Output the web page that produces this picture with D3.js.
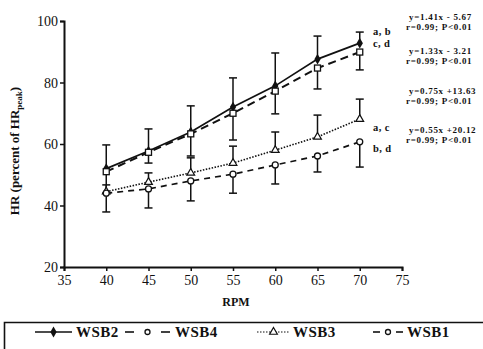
<!DOCTYPE html>
<html>
<head>
<meta charset="utf-8">
<script src="https://cdn.jsdelivr.net/npm/d3@7"></script>
<style>
  body { margin: 0; background: #fff; }
  svg { display: block; font-family: "Liberation Serif", "DejaVu Serif", serif; }
</style>
</head>
<body>
<script>
// data
const rpm = [40, 45, 50, 55, 60, 65, 70];
const wsb2 = [52, 57.7, 63.9, 72, 78.9, 87.6, 92.8];
const wsb4 = [51, 57.3, 63.3, 70, 77.2, 84.7, 89.9];
const wsb3 = [44.5, 47.6, 50.6, 53.8, 58, 62.3, 68.1];
const wsb1 = [44, 45.4, 48, 50.2, 53.2, 56.1, 60.7];
// error bars (one sided: up for WSB2/WSB3, down for WSB4/WSB1)
const wsb2Err = [7.7, 7.2, 8.5, 9.5, 10.7, 7.5, 3.6];
const wsb4Err = [7, 3.5, 7.2, 8.7, 7.4, 6.8, 5.8];
const wsb3Err = [2.2, 3, 4.9, 5.5, 5.9, 7.1, 6.5];
const wsb1Err = [6.1, 6.2, 6.5, 6.2, 6.2, 5.2, 8.2];
const xTicks = [35, 40, 45, 50, 55, 60, 65, 70, 75];
const yTicks = [20, 40, 60, 80, 100];
const sigLabels = ["a, b", "c, d", "a, c", "b, d"];
const equations = ["y=1.41x - 5.67", "y=1.33x - 3.21", "y=0.75x +13.63", "y=0.55x +20.12"];
const stats = ["r=0.99;  P<0.01", "r=0.99;  P<0.01", "r=0.99;  P<0.01", "r=0.99;  P<0.01"];

const width = 483, height = 349;
const svg = d3.select("body").append("svg")
  .attr("width", width).attr("height", height);

const x = d3.scaleLinear().domain([35, 75]).range([64, 402]);
const y = d3.scaleLinear().domain([20, 100]).range([267, 21]);

const series = [
  { name: "WSB2", values: wsb2, err: wsb2Err, dir: 1, dash: null, sw: 1.7, marker: "diamond" },
  { name: "WSB4", values: wsb4, err: wsb4Err, dir: -1, dash: "8,5", sw: 2, marker: "square" },
  { name: "WSB3", values: wsb3, err: wsb3Err, dir: 1, dash: "1.5,1.5", sw: 1.6, marker: "triangle" },
  { name: "WSB1", values: wsb1, err: wsb1Err, dir: -1, dash: "6,5", sw: 1.7, marker: "circle" }
];

// axes
const xAxis = svg.append("g")
  .attr("transform", "translate(0," + y(20) + ")")
  .call(d3.axisBottom(x).tickValues(xTicks).tickSize(4).tickPadding(4));
const yAxis = svg.append("g")
  .attr("transform", "translate(" + x(35) + ",0)")
  .call(d3.axisLeft(y).tickValues(yTicks).tickSize(4).tickPadding(2));

[xAxis, yAxis].forEach(g => {
  g.select(".domain").attr("stroke", "#111").attr("stroke-width", 2);
  g.selectAll(".tick line").attr("stroke", "#111").attr("stroke-width", 1.5);
  g.selectAll(".tick text")
    .attr("fill", "#111")
    .style("font-family", "Liberation Serif")
    .style("font-size", "14px");
});
yAxis.selectAll(".tick text").attr("dy", "0.35em");

// axis titles
svg.append("text")
  .attr("x", 236).attr("y", 306)
  .attr("text-anchor", "middle")
  .attr("font-weight", "bold")
  .attr("font-size", 12)
  .attr("fill", "#111")
  .text("RPM");

const yTitle = svg.append("text")
  .attr("transform", "translate(19,151) rotate(-90)")
  .attr("text-anchor", "middle")
  .attr("font-weight", "bold")
  .attr("font-size", 13)
  .attr("fill", "#111");
yTitle.append("tspan").text("HR (percent of HR");
yTitle.append("tspan").attr("font-size", 9).attr("dy", 3).text("peak");
yTitle.append("tspan").attr("dy", -3).text(")");

function drawMarker(g, type, cx, cy, r) {
  r = r || 3;
  if (type === "diamond") {
    g.append("path")
      .attr("d", d3.symbol(d3.symbolDiamond, 34)())
      .attr("transform", "translate(" + cx + "," + cy + ")")
      .attr("fill", "#111");
  } else if (type === "square") {
    g.append("rect")
      .attr("x", cx - 3).attr("y", cy - 3).attr("width", 6).attr("height", 6)
      .attr("fill", "#fff").attr("stroke", "#111").attr("stroke-width", 1.3);
  } else if (type === "triangle") {
    g.append("path")
      .attr("d", d3.symbol(d3.symbolTriangle, 26)())
      .attr("transform", "translate(" + cx + "," + cy + ")")
      .attr("fill", "#fff").attr("stroke", "#111").attr("stroke-width", 1.2);
  } else {
    g.append("circle")
      .attr("cx", cx).attr("cy", cy).attr("r", r)
      .attr("fill", "#fff").attr("stroke", "#111").attr("stroke-width", 1.3);
  }
}

const line = d3.line().x(d => x(d[0])).y(d => y(d[1]));
const plot = svg.append("g");

// error bars
series.forEach(s => {
  s.values.forEach((v, i) => {
    const end = v + s.dir * s.err[i];
    plot.append("line")
      .attr("x1", x(rpm[i])).attr("x2", x(rpm[i]))
      .attr("y1", y(v)).attr("y2", y(end))
      .attr("stroke", "#111").attr("stroke-width", 1.5);
    plot.append("line")
      .attr("x1", x(rpm[i]) - 4).attr("x2", x(rpm[i]) + 4)
      .attr("y1", y(end)).attr("y2", y(end))
      .attr("stroke", "#111").attr("stroke-width", 1.5);
  });
});

// lines
series.forEach(s => {
  plot.append("path")
    .datum(rpm.map((r, i) => [r, s.values[i]]))
    .attr("d", line)
    .attr("fill", "none")
    .attr("stroke", "#111")
    .attr("stroke-width", s.sw)
    .attr("stroke-dasharray", s.dash);
});

// markers
series.forEach(s => {
  s.values.forEach((v, i) => drawMarker(plot, s.marker, x(rpm[i]), y(v)));
});

// significance labels
const sigY = [35, 47, 131, 152];
sigLabels.forEach((t, i) => {
  svg.append("text")
    .attr("x", 373).attr("y", sigY[i])
    .attr("font-size", 10.5).attr("font-weight", "bold")
    .attr("letter-spacing", 0.4)
    .attr("fill", "#111")
    .text(t);
});

// regression equations
const eqY = [20, 54, 94, 133];
equations.forEach((t, i) => {
  svg.append("text")
    .attr("x", 409).attr("y", eqY[i])
    .attr("font-size", 9).attr("font-weight", "bold")
    .attr("letter-spacing", 0.7)
    .attr("fill", "#111")
    .text(t);
  svg.append("text")
    .attr("x", 406).attr("y", eqY[i] + 10)
    .attr("font-size", 9).attr("font-weight", "bold")
    .attr("letter-spacing", 0.7)
    .attr("fill", "#111")
    .text(stats[i]);
});

// legend
const leg = svg.append("g");
leg.append("path")
  .attr("d", "M4.5," + height + "V322.5H" + width)
  .attr("fill", "none").attr("stroke", "#111").attr("stroke-width", 1.6);

// legend layout: line start, line end, text x
const legLine = [[35, 72], [125, 170], [257, 290], [373, 403]];
const legText = [76, 175, 293, 407];
const legY = 332;
series.forEach((s, i) => {
  const [a, b] = legLine[i];
  const cx = (a + b) / 2;
  if (s.marker === "diamond") {
    leg.append("line")
      .attr("x1", a).attr("x2", b).attr("y1", legY).attr("y2", legY)
      .attr("stroke", "#111").attr("stroke-width", 1.6);
  } else if (s.marker === "triangle") {
    leg.append("line")
      .attr("x1", a).attr("x2", b).attr("y1", legY).attr("y2", legY)
      .attr("stroke", "#111").attr("stroke-width", 1.1)
      .attr("stroke-dasharray", "1.5,1.5");
  } else {
    const seg = s.marker === "square" ? 9 : 7;
    leg.append("line")
      .attr("x1", a).attr("x2", a + seg).attr("y1", legY).attr("y2", legY)
      .attr("stroke", "#111").attr("stroke-width", 1.6);
    leg.append("line")
      .attr("x1", b - seg).attr("x2", b).attr("y1", legY).attr("y2", legY)
      .attr("stroke", "#111").attr("stroke-width", 1.6);
  }
  drawMarker(leg, s.marker === "square" ? "circle" : s.marker, cx, legY, 2.5);
  leg.append("text")
    .attr("x", legText[i]).attr("y", legY + 5)
    .attr("font-size", 15).attr("font-weight", "bold")
    .attr("letter-spacing", 0.5)
    .attr("fill", "#111")
    .text(s.name);
});
</script>
</body>
</html>
